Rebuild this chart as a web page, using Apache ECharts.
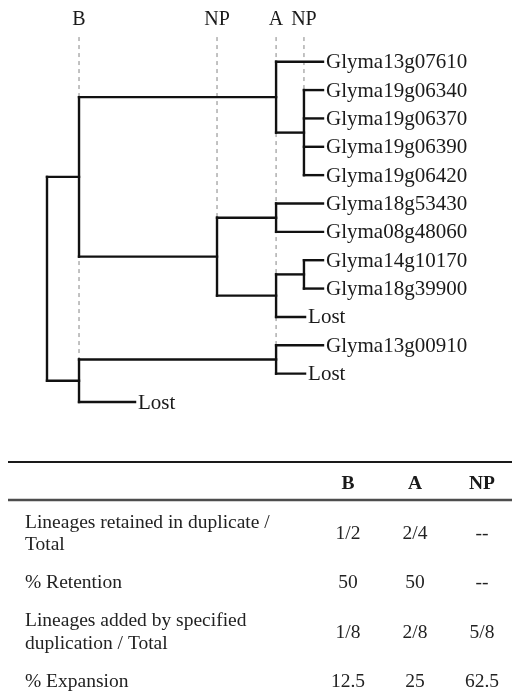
<!DOCTYPE html>
<html><head><meta charset="utf-8">
<script src="https://cdn.jsdelivr.net/npm/echarts@6/dist/echarts.min.js"></script>
<style>html,body{margin:0;padding:0;background:#fff}#c{width:512px;height:694px}</style>
</head><body><div id="c"></div>
<script>
// ---- tree data ----
const leafNames = ['Glyma13g07610','Glyma19g06340','Glyma19g06370','Glyma19g06390','Glyma19g06420',
  'Glyma18g53430','Glyma08g48060','Glyma14g10170','Glyma18g39900','Lost','Glyma13g00910','Lost','Lost'];
const leafDepths = [100,100,100,100,100,100,100,100,100,93.5,100,93.5,31.9];
const nodeNames = ['root','b1','b2','a1','np1','np2','a2','a3','np3','a4'];
const nodeDepths = [0, 11.6, 11.6, 83, 61.6, 93.1, 83, 83, 93.1, 83];
const nodeChildren = [['b1','b2'],['a1','np1'],['a4','L12'],['L0','np2'],['a2','a3'],
  ['L1','L2','L3','L4'],['L5','L6'],['np3','L9'],['L7','L8'],['L10','L11']];
const eventLabels = ['B','NP','A','NP'];
const eventDepths = [11.6, 61.6, 83, 93.1];
const eventLastNode = ['b2','np1','a4','np2'];

// ---- table data ----
const tableColumns = ['B','A','NP'];
const tableRows = ['Lineages retained in duplicate /\nTotal','% Retention','Lineages added by specified\nduplication / Total','% Expansion'];
const colB = ['1/2','50','1/8','12.5'];
const colA = ['2/4','50','2/8','25'];
const colNP = ['--','--','5/8','62.5'];

// ---- derived ----
function pos(id){
  if (id[0]==='L'){ const i=+id.slice(1); return {x:leafDepths[i], y:i}; }
  const k=nodeNames.indexOf(id); const ch=nodeChildren[k].map(pos);
  return {x:nodeDepths[k], y:(ch[0].y+ch[ch.length-1].y)/2, top:ch[0].y, bottom:ch[ch.length-1].y, ch:ch};
}
const treeSegs=[];
nodeNames.forEach(function(n){
  const p=pos(n);
  treeSegs.push([p.x,p.top,p.x,p.bottom]);
  p.ch.forEach(function(c){ treeSegs.push([p.x,c.y,c.x,c.y]); });
});
const DASH_TOP=-0.87, LABEL_Y=-1.47;
const dashSegs=eventDepths.map(function(d,i){ return [d,DASH_TOP,d,pos(eventLastNode[i]).top]; });
const leafData=leafNames.map(function(n,i){ return [leafDepths[i], i]; });
const eventData=eventDepths.map(function(d){ return [d, LABEL_Y]; });
const tableCols=[colB,colA,colNP];
const cellData=[];
tableRows.forEach(function(r,ri){ tableCols.forEach(function(col,ci){ cellData.push([ci,ri]); }); });

const FONT='Liberation Serif';
function segRender(color,width,dash){
  return function(params,api){
    const a=api.coord([api.value(0),api.value(1)]), b=api.coord([api.value(2),api.value(3)]);
    return {type:'line',shape:{x1:a[0],y1:a[1],x2:b[0],y2:b[1]},
      style:{stroke:color,lineWidth:width,lineDash:dash||null,lineCap:dash?'butt':'square'}};
  };
}

const chart=echarts.init(document.getElementById('c'),null,{renderer:'canvas'});
chart.setOption({
  animation:false,
  backgroundColor:'#fff',
  textStyle:{fontFamily:FONT},
  grid:[{left:47,top:5,width:276,height:397,outerBoundsMode:'none'},
        {left:314.5,top:509.3,width:201,height:197.3,outerBoundsMode:'none'}],
  xAxis:[{type:'value',min:0,max:100,show:false,gridIndex:0},
    {type:'category',gridIndex:1,data:tableColumns,position:'top',axisLine:{show:false},axisTick:{show:false},
     axisLabel:{fontFamily:FONT,fontSize:19.5,fontWeight:'bold',color:'#1a1a1a',margin:16,lineHeight:19}}],
  yAxis:[{type:'value',min:-2,max:12,inverse:true,show:false,gridIndex:0},
    {type:'category',gridIndex:1,data:tableRows,inverse:true,axisLine:{show:false},axisTick:{show:false},
     axisLabel:{fontFamily:FONT,fontSize:19.5,color:'#222',align:'left',margin:289.5,lineHeight:22.5}}],
  graphic:[
    {type:'line',shape:{x1:8,y1:462,x2:512,y2:462},style:{stroke:'#1a1a1a',lineWidth:2}},
    {type:'line',shape:{x1:8,y1:500,x2:512,y2:500},style:{stroke:'#4d4d4d',lineWidth:2.5}}
  ],
  series:[
    {type:'custom',xAxisIndex:0,yAxisIndex:0,data:dashSegs,encode:{x:[0,2],y:[1,3]},
     renderItem:segRender('#9a9a9a',1.2,[4,4]),silent:true,z:1},
    {type:'custom',xAxisIndex:0,yAxisIndex:0,data:treeSegs,encode:{x:[0,2],y:[1,3]},
     renderItem:segRender('#111',2.4),silent:true,z:2},
    {type:'custom',xAxisIndex:0,yAxisIndex:0,data:leafData,encode:{x:0,y:1},silent:true,z:3,
     renderItem:function(params,api){
       const p=api.coord([api.value(0),api.value(1)]);
       return {type:'text',x:p[0]+3,y:p[1]+1,style:{text:leafNames[params.dataIndex],fontFamily:FONT,fontSize:21,
         fill:'#1a1a1a',verticalAlign:'middle',align:'left'}};
     }},
    {type:'custom',xAxisIndex:0,yAxisIndex:0,data:eventData,encode:{x:0,y:1},silent:true,z:3,
     renderItem:function(params,api){
       const p=api.coord([api.value(0),api.value(1)]);
       return {type:'text',x:p[0],y:p[1],style:{text:eventLabels[params.dataIndex],fontFamily:FONT,fontSize:20,
         fill:'#1a1a1a',verticalAlign:'middle',align:'center'}};
     }},
    {type:'custom',xAxisIndex:1,yAxisIndex:1,data:cellData,encode:{x:0,y:1},silent:true,z:3,
     renderItem:function(params,api){
       const ci=api.value(0), ri=api.value(1);
       const p=api.coord([ci,ri]);
       return {type:'text',x:p[0],y:p[1],style:{text:tableCols[ci][ri],fontFamily:FONT,fontSize:19.5,
         fill:'#222',verticalAlign:'middle',align:'center'}};
     }}
  ]
});
</script></body></html>
